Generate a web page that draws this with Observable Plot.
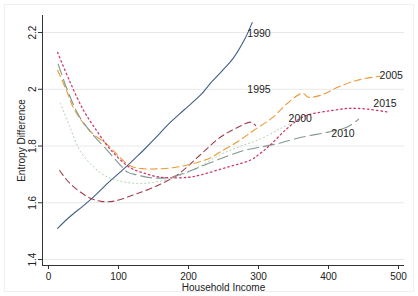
<!DOCTYPE html>
<html>
<head>
<meta charset="utf-8">
<script src="https://cdn.jsdelivr.net/npm/d3@7"></script>
<script src="https://cdn.jsdelivr.net/npm/@observablehq/plot@0.6"></script>
<style>
  html, body { margin: 0; padding: 0; background: #fff; }
  #wrap { position: relative; width: 418px; height: 296px; }
  #border { position: absolute; left: 4px; top: 4px; right: 4px; bottom: 4px; border: 1px solid #f0f0f0; pointer-events: none; }
</style>
</head>
<body>
<div id="wrap"><div id="chart"></div><div id="border"></div></div>
<script>
// ---- data ----
const inc1990 = [13, 30, 50, 64, 85, 106, 125, 136, 157, 170, 193, 217, 231, 250, 264, 281, 291];
const ent1990 = [1.51, 1.55, 1.59, 1.62, 1.67, 1.716, 1.76, 1.786, 1.839, 1.874, 1.926, 1.979, 2.02, 2.07, 2.11, 2.18, 2.235];

const inc1995 = [16, 30, 56, 75, 96, 121, 131, 155, 184, 215, 246, 270, 289, 296];
const ent1995 = [1.714, 1.67, 1.621, 1.605, 1.607, 1.628, 1.636, 1.66, 1.698, 1.765, 1.832, 1.865, 1.884, 1.872];

const inc2000 = [17, 21, 30, 46, 65, 84, 105, 127, 150, 180, 210, 246, 275, 303, 330, 350];
const ent2000 = [1.951, 1.926, 1.87, 1.78, 1.725, 1.691, 1.675, 1.668, 1.672, 1.69, 1.72, 1.77, 1.80, 1.825, 1.86, 1.885];

const inc2005 = [13, 25, 36, 50, 65, 84, 100, 117, 136, 160, 184, 210, 231, 246, 270, 293, 320, 341, 363, 371, 389, 413, 441, 474];
const ent2005 = [2.067, 2.0, 1.933, 1.88, 1.84, 1.805, 1.765, 1.73, 1.72, 1.72, 1.726, 1.74, 1.758, 1.78, 1.815, 1.855, 1.90, 1.95, 1.986, 1.972, 1.979, 2.007, 2.032, 2.046];

const inc2010 = [14, 25, 43, 60, 84, 100, 113, 127, 146, 174, 200, 230, 256, 280, 303, 330, 360, 399, 427, 443];
const ent2010 = [2.088, 2.01, 1.909, 1.85, 1.785, 1.74, 1.708, 1.698, 1.688, 1.69, 1.71, 1.74, 1.765, 1.785, 1.796, 1.81, 1.83, 1.849, 1.867, 1.895];

const inc2015 = [13, 30, 50, 70, 89, 117, 136, 155, 174, 200, 217, 256, 289, 303, 317, 340, 360, 374, 407, 431, 456, 486];
const ent2015 = [2.13, 2.03, 1.926, 1.85, 1.786, 1.723, 1.705, 1.692, 1.688, 1.69, 1.698, 1.726, 1.751, 1.775, 1.804, 1.86, 1.898, 1.912, 1.926, 1.933, 1.93, 1.919];

const labelText = ["1990", "1995", "2000", "2005", "2010", "2015"];
const labelInc  = [284, 284, 343, 473, 404, 464];
const labelEnt  = [2.196, 2.0, 1.898, 2.047, 1.842, 1.95];

const xTicks = [0, 100, 200, 300, 400, 500];
const yTicks = [1.4, 1.6, 1.8, 2, 2.2];

// ---- styles ----
const styles = {
  "1990": {stroke: "#3f5f86", dash: null, width: 1.1},
  "1995": {stroke: "#a03c4e", dash: "6,4", width: 1.1},
  "2000": {stroke: "#a9cfa6", dash: "1,3", width: 1},
  "2005": {stroke: "#eb9a35", dash: "7,4", width: 1.1},
  "2010": {stroke: "#80968f", dash: "11,5", width: 1.1},
  "2015": {stroke: "#cc3a6c", dash: "1.5,3", width: 1.3}
};

const series = {
  "1990": [inc1990, ent1990],
  "1995": [inc1995, ent1995],
  "2000": [inc2000, ent2000],
  "2005": [inc2005, ent2005],
  "2010": [inc2010, ent2010],
  "2015": [inc2015, ent2015]
};

const lineMarks = Object.entries(series).map(([yr, [xs, ys]]) => {
  const rows = xs.map((x, i) => ({x, y: ys[i]}));
  const s = styles[yr];
  return Plot.line(rows, {
    x: "x", y: "y", stroke: s.stroke, strokeWidth: s.width,
    strokeDasharray: s.dash, curve: "catmull-rom"
  });
});

const labels = labelText.map((t, i) => ({t, x: labelInc[i], y: labelEnt[i]}));

const xDomain = [-8.57, 508.57];
const yDomain = [1.379, 2.26];

const chart = Plot.plot({
  width: 418,
  height: 296,
  marginLeft: 42,
  marginRight: 14,
  marginTop: 15,
  marginBottom: 31,
  style: {fontFamily: "'Liberation Sans', Arial, Helvetica, sans-serif", fontSize: "10px", background: "transparent", color: "#222"},
  x: {domain: xDomain},
  y: {domain: yDomain},
  marks: [
    Plot.gridY(yTicks, {stroke: "#e8e8e8", strokeOpacity: 1}),
    ...lineMarks,
    Plot.ruleX([xDomain[0]], {stroke: "#333", strokeWidth: 1}),
    Plot.ruleY([yDomain[0]], {stroke: "#333", strokeWidth: 1}),
    Plot.axisX(xTicks, {tickSize: 4, tickPadding: 3, stroke: "#333", fill: "#222", fontSize: 10,
      label: "Household Income", labelAnchor: "center", labelOffset: 25, labelArrow: false}),
    Plot.axisY(yTicks, {tickSize: 4, tickPadding: 3, tickRotate: -90, stroke: "#333", fill: "#222", fontSize: 10,
      tickFormat: d => String(d),
      label: "Entropy Difference", labelAnchor: "center", labelOffset: 25, labelArrow: false}),
    Plot.text(labels, {x: "x", y: "y", text: "t", textAnchor: "start", fill: "#222", fontSize: 10.5})
  ]
});
document.getElementById("chart").appendChild(chart);
</script>
</body>
</html>
